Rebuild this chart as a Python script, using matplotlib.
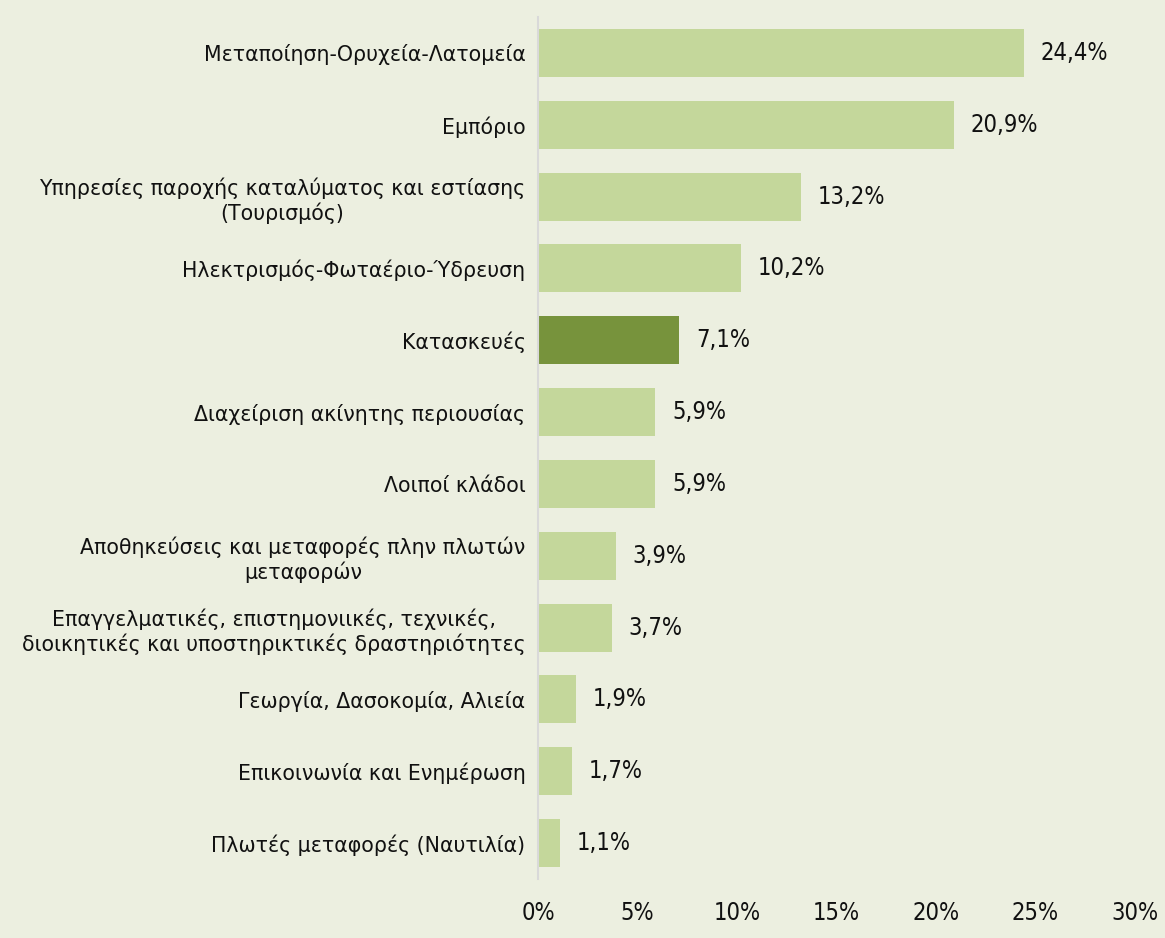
import matplotlib
matplotlib.use("Agg")
import matplotlib.pyplot as plt

categories = [
    "Μεταποίηση-Ορυχεία-Λατομεία",
    "Εμπόριο",
    "Υπηρεσίες παροχής καταλύματος και εστίασης\n(Τουρισμός)",
    "Ηλεκτρισμός-Φωταέριο-Ύδρευση",
    "Κατασκευές",
    "Διαχείριση ακίνητης περιουσίας",
    "Λοιποί κλάδοι",
    "Αποθηκεύσεις και μεταφορές πλην πλωτών\nμεταφορών",
    "Επαγγελματικές, επιστημονιικές, τεχνικές,\nδιοικητικές και υποστηρικτικές δραστηριότητες",
    "Γεωργία, Δασοκομία, Αλιεία",
    "Επικοινωνία και Ενημέρωση",
    "Πλωτές μεταφορές (Ναυτιλία)",
]
values = [24.4, 20.9, 13.2, 10.2, 7.1, 5.9, 5.9, 3.9, 3.7, 1.9, 1.7, 1.1]
highlight = "Κατασκευές"
xticks = [0, 5, 10, 15, 20, 25, 30]

bg = "#ECEFE0"
light = "#C4D79B"
dark = "#77933C"

plt.rcParams['font.family'] = ['DejaVu Sans']
fig = plt.figure(figsize=(11.65, 9.38), dpi=100, facecolor=bg)
ax = fig.add_axes([538/1165, 1-879/938, (1135-538)/1165, (879-17)/938])
ax.set_facecolor(bg)

ys = list(range(len(categories)))
colors = [dark if c == highlight else light for c in categories]
ax.barh(ys, values, height=0.67, color=colors)
ax.set_ylim(len(categories)-0.5, -0.5)
ax.set_xlim(0, 30)
ax.set_yticks(ys)
ax.set_yticklabels(categories, fontsize=14.8, color="#111111", ha="right", multialignment="center")
ax.set_xticks(xticks)
ax.set_xticklabels([f"{t}%" for t in xticks], fontsize=17, color="#111111", fontstretch="condensed")
ax.tick_params(axis="y", length=0, pad=9)
ax.tick_params(axis="x", length=0, pad=16)
for s in ["top", "right", "bottom"]:
    ax.spines[s].set_visible(False)
ax.spines["left"].set_color("#D9D9D9")
ax.spines["left"].set_linewidth(1.5)

for y, v in zip(ys, values):
    ax.annotate(f"{v:.1f}%".replace(".", ","), xy=(v, y), xytext=(12, 0),
                textcoords="offset points", va="center", ha="left",
                fontsize=17, color="#111111", fontstretch="condensed")

fig.savefig("out.png", dpi=100, facecolor=bg)
